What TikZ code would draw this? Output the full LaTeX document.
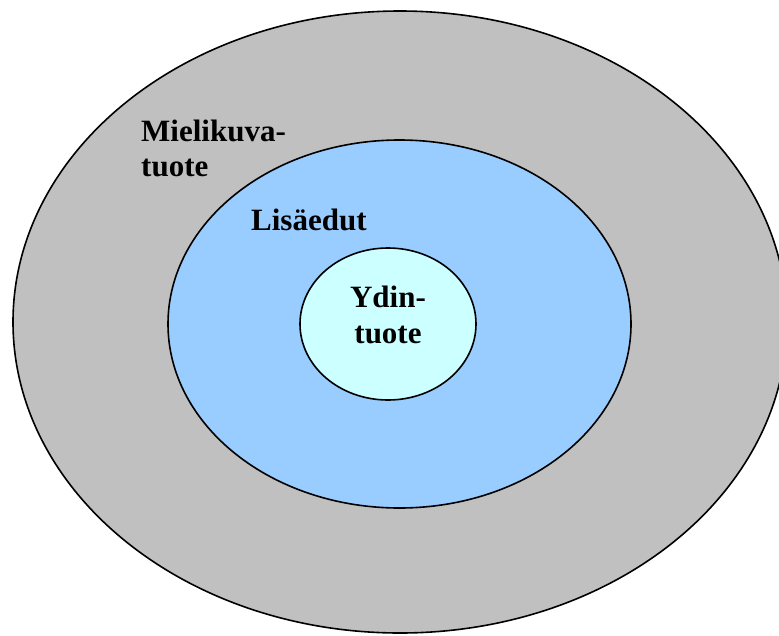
\documentclass[tikz,border=0pt]{standalone}
\usepackage{fontspec}
\setmainfont{Liberation Serif}
\definecolor{outergray}{HTML}{C0C0C0}
\definecolor{midblue}{HTML}{99CCFF}
\definecolor{corecyan}{HTML}{CCFFFF}
\begin{document}
\begin{tikzpicture}[x=1pt,y=-1pt,
  ring/.style={draw=black,line width=1.6pt},
  lbl/.style={font=\fontsize{31}{35}\selectfont\bfseries,inner sep=0pt}]
  \useasboundingbox (0,0) rectangle (779,635);
  % product levels as nested ellipses
  \filldraw[ring,fill=outergray] (400,322) ellipse [x radius=387,y radius=311];
  \filldraw[ring,fill=midblue] (399.5,324) ellipse [x radius=231.5,y radius=184];
  \filldraw[ring,fill=corecyan] (388,324) ellipse [x radius=88,y radius=76];
  % labels
  \node[lbl,anchor=base west] (m1) at (141,141) {Mielikuva-};
  \node[lbl,anchor=base west] (m2) at (141,176) {tuote};
  \node[lbl,anchor=base west] (l1) at (251,230) {Lisäedut};
  \node[lbl,anchor=base] (y1) at (388,307) {Ydin-};
  \node[lbl,anchor=base] (y2) at (388,343) {tuote};
\end{tikzpicture}
\end{document}
